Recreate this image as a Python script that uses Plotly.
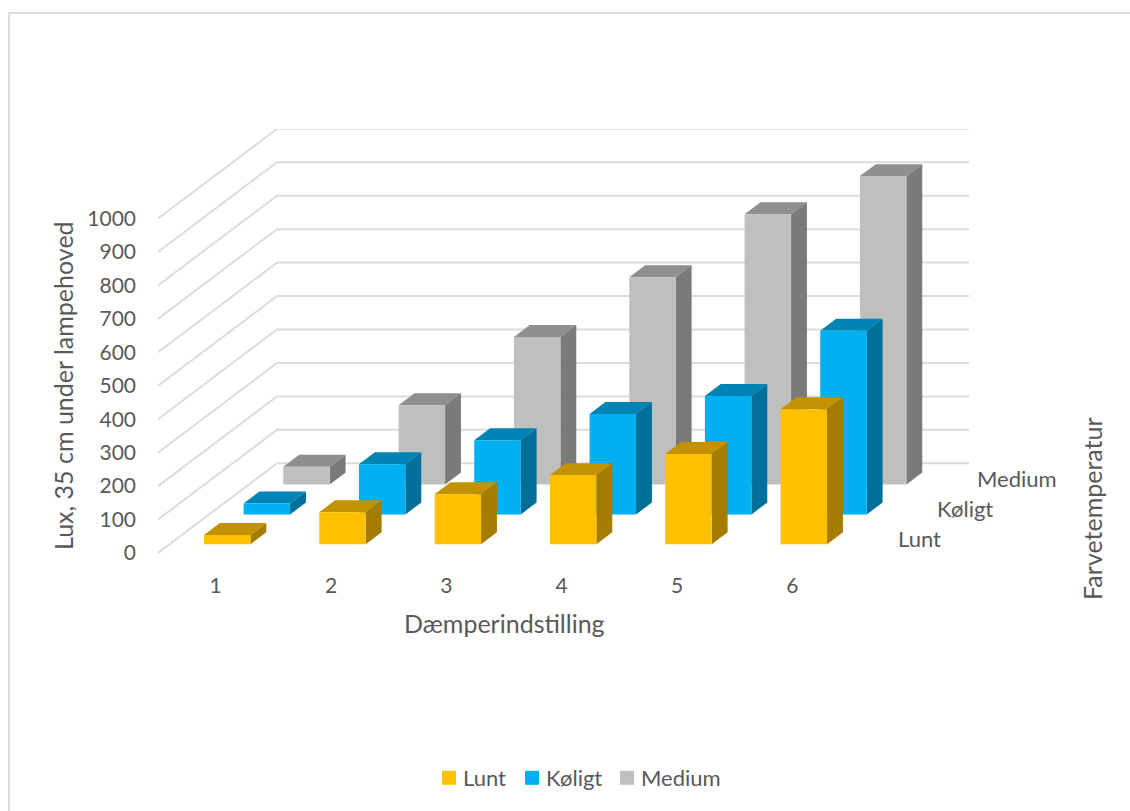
import plotly.graph_objects as go

W, H = 1130, 811
categories = [1, 2, 3, 4, 5, 6]
series_names = ["Lunt", "Køligt", "Medium"]
lunt = [28, 96, 150, 207, 270, 404]
koligt = [33, 150, 222, 300, 354, 549]
medium = [53, 237, 441, 620, 808, 922]
y_ticks = list(range(0, 1001, 100))

values = [lunt, koligt, medium]
front_colors = ["#FFC000", "#00B0F0", "#BFBFBF"]
top_colors = ["#C29200", "#0084B5", "#8F8F8F"]
side_colors = ["#A67C00", "#00709A", "#7A7A7A"]
grid_color = "#DCDCDC"
text_color = "#595959"
font_family = "Lato"

# projection of the depth axis (one series = one step) in data units
L, R, T, B = 158, 969, 129, 553
PX_PER_CAT = 115.33
PX_PER_VAL = 0.3345
DX = 39.67 / PX_PER_CAT
DY = 29.9 / PX_PER_VAL
BAR_W = 0.403
D0, D1 = 0.29, 0.69  # bar start/end inside a depth slot

x_range = [0.5, 0.5 + (R - L) / PX_PER_CAT]
y_range = [0, (B - T) / PX_PER_VAL]


def proj(x, v, d):
    return x + DX * d, v + DY * d


def poly_trace(polys, color):
    xs, ys = [], []
    for p in polys:
        for (x, v, d) in p + [p[0]]:
            px_, py_ = proj(x, v, d)
            xs.append(px_)
            ys.append(py_)
        xs.append(None)
        ys.append(None)
    return go.Scatter(x=xs, y=ys, mode="lines", fill="toself", fillcolor=color,
                      line=dict(width=0, color=color), hoverinfo="skip",
                      showlegend=False, cliponaxis=False)


fig = go.Figure()

# floor and wall gridlines
gx, gy = [], []
for v in y_ticks:
    gx += [x_range[0], x_range[0] + 3 * DX, x_range[1], None]
    gy += [v, v + 3 * DY, v + 3 * DY, None]
fig.add_trace(go.Scatter(x=gx, y=gy, mode="lines", line=dict(color=grid_color, width=2),
                         hoverinfo="skip", showlegend=False, cliponaxis=False))

# bars, back row first
for i in (2, 1, 0):
    sides, tops, fronts = [], [], []
    for c, v in zip(categories, values[i]):
        x0 = c - BAR_W / 2
        x1 = c + BAR_W / 2
        d0, d1 = i + D0, i + D1
        fronts.append([(x0, 0, d0), (x1, 0, d0), (x1, v, d0), (x0, v, d0)])
        tops.append([(x0, v, d0), (x1, v, d0), (x1, v, d1), (x0, v, d1)])
        sides.append([(x1, 0, d0), (x1, 0, d1), (x1, v, d1), (x1, v, d0)])
    fig.add_trace(poly_trace(sides, side_colors[i]))
    fig.add_trace(poly_trace(tops, top_colors[i]))
    fig.add_trace(poly_trace(fronts, front_colors[i]))


def px(x):
    return (x - L) / (R - L)


def py(y):
    return (B - y) / (B - T)


# legend entries, one native legend per series so each sits at its own place
legend_ids = ["legend", "legend2", "legend3"]
legend_lefts = [423, 506, 601]
legend_layout = {}
for i, name in enumerate(series_names):
    fig.add_trace(go.Scatter(x=[None], y=[None], mode="markers", name=name, legend=legend_ids[i],
                             showlegend=True,
                             marker=dict(symbol="square", size=14, color=front_colors[i])))
    legend_layout[legend_ids[i]] = dict(orientation="h", x=px(legend_lefts[i]), y=py(778),
                                        xanchor="left", yanchor="middle",
                                        font=dict(size=22, color=text_color, family=font_family),
                                        bgcolor="rgba(0,0,0,0)")

annotations = []
for i, name in enumerate(series_names):
    ax, ay = proj(x_range[0] + (6 * 1.0), 0, i + 0.5)
    annotations.append(dict(x=ax, y=ay, xref="x", yref="y", text=name, showarrow=False,
                            xanchor="left", yanchor="middle", xshift=26, yshift=0,
                            font=dict(size=22, color=text_color, family=font_family)))
annotations.append(dict(x=px(504), y=py(623), xref="paper", yref="paper", text="Dæmperindstilling",
                        showarrow=False, xanchor="center", yanchor="middle",
                        font=dict(size=25, color=text_color, family=font_family)))
annotations.append(dict(x=px(63), y=py(386), xref="paper", yref="paper",
                        text="Lux, 35 cm under lampehoved", textangle=-90, showarrow=False,
                        xanchor="center", yanchor="middle",
                        font=dict(size=25, color=text_color, family=font_family)))
annotations.append(dict(x=px(1092), y=py(509), xref="paper", yref="paper", text="Farvetemperatur",
                        textangle=-90, showarrow=False, xanchor="center", yanchor="middle",
                        font=dict(size=25, color=text_color, family=font_family)))

fig.update_layout(
    width=W, height=H,
    margin=dict(l=L, r=W - R, t=T, b=H - B, pad=0),
    paper_bgcolor="white", plot_bgcolor="white",
    font=dict(family=font_family, size=21, color=text_color),
    xaxis=dict(range=x_range, tickmode="array", tickvals=categories, ticktext=[str(c) for c in categories],
               showgrid=False, zeroline=False, showline=False, ticks="", ticklabelstandoff=18,
               tickfont=dict(size=21, color=text_color, family=font_family), fixedrange=True),
    yaxis=dict(range=y_range, tickmode="array", tickvals=y_ticks, ticktext=[str(v) for v in y_ticks],
               showgrid=False, zeroline=False, showline=False, ticks="", ticklabelstandoff=21,
               tickfont=dict(size=21, color=text_color, family=font_family), fixedrange=True),
    annotations=annotations,
    shapes=[dict(type="rect", xref="paper", yref="paper", x0=px(9), x1=px(1140), y0=py(13), y1=py(830),
                 line=dict(color="#DCDCDC", width=2), fillcolor="rgba(0,0,0,0)", layer="below")],
    **legend_layout,
)

fig.write_html(
    "out.html", config={"displayModeBar": False},
    post_script=("document.body.style.margin='0';"
                 "document.querySelectorAll('.legendsymbols').forEach(function(g){"
                 "g.setAttribute('transform','translate(6,0)');});"),
)
